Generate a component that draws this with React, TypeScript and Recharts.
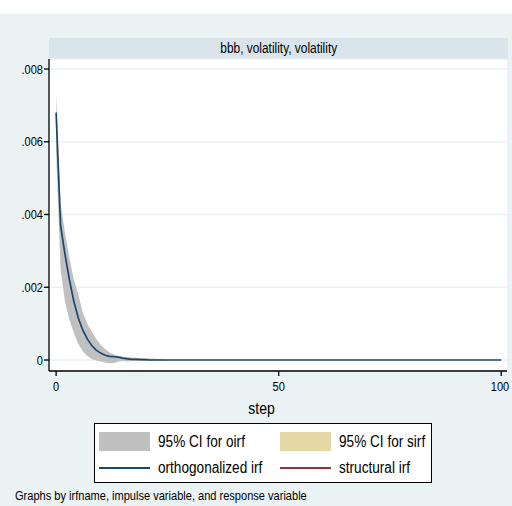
import { ComposedChart, Area, Line, XAxis, YAxis, CartesianGrid } from 'recharts'

// orthogonalized irf, lower and upper 95% CI, one value per step (0..100)
const oirf = [
  0.0068, 0.0037, 0.0029, 0.0022, 0.0016, 0.00115, 0.00082, 0.00058, 0.0004, 0.00027,
  0.00019, 0.00013, 0.0001, 0.00009, 0.00008, 0.00005, 0.00003, 0.00002, 0.00002, 0.00001,
  0.00001, 0, 0, 0, 0, 0, 0, 0, 0, 0,
  0, 0, 0, 0, 0, 0, 0, 0, 0, 0,
  0, 0, 0, 0, 0, 0, 0, 0, 0, 0,
  0, 0, 0, 0, 0, 0, 0, 0, 0, 0,
  0, 0, 0, 0, 0, 0, 0, 0, 0, 0,
  0, 0, 0, 0, 0, 0, 0, 0, 0, 0,
  0, 0, 0, 0, 0, 0, 0, 0, 0, 0,
  0, 0, 0, 0, 0, 0, 0, 0, 0, 0,
  0,
]
const ciLower = [
  0.0057, 0.0025, 0.0016, 0.0011, 0.00074, 0.00044, 0.00024, 0.00011, 0.00003, -0.00001,
  -0.00004, -0.00007, -0.00009, -0.00008, -0.00004, -0.00003, -0.00004, -0.00003, -0.00003, -0.00003,
  -0.00003, -0.00003, -0.00003, -0.00002, -0.00002, 0, 0, 0, 0, 0,
  0, 0, 0, 0, 0, 0, 0, 0, 0, 0,
  0, 0, 0, 0, 0, 0, 0, 0, 0, 0,
  0, 0, 0, 0, 0, 0, 0, 0, 0, 0,
  0, 0, 0, 0, 0, 0, 0, 0, 0, 0,
  0, 0, 0, 0, 0, 0, 0, 0, 0, 0,
  0, 0, 0, 0, 0, 0, 0, 0, 0, 0,
  0, 0, 0, 0, 0, 0, 0, 0, 0, 0,
  0,
]
const ciUpper = [
  0.0073, 0.0043, 0.0035, 0.0028, 0.0022, 0.0018, 0.0013, 0.001, 0.00078, 0.00058,
  0.00042, 0.0003, 0.00021, 0.00015, 0.00011, 0.00009, 0.00008, 0.00007, 0.00006, 0.00005,
  0.00005, 0.00004, 0.00004, 0.00003, 0.00003, 0, 0, 0, 0, 0,
  0, 0, 0, 0, 0, 0, 0, 0, 0, 0,
  0, 0, 0, 0, 0, 0, 0, 0, 0, 0,
  0, 0, 0, 0, 0, 0, 0, 0, 0, 0,
  0, 0, 0, 0, 0, 0, 0, 0, 0, 0,
  0, 0, 0, 0, 0, 0, 0, 0, 0, 0,
  0, 0, 0, 0, 0, 0, 0, 0, 0, 0,
  0, 0, 0, 0, 0, 0, 0, 0, 0, 0,
  0,
]

const xTicks = [0, 50, 100]
const yTicks = [0, 0.002, 0.004, 0.006, 0.008]

const panelTitle = 'bbb, volatility, volatility'
const xTitle = 'step'
const note = 'Graphs by irfname, impulse variable, and response variable'
const legendItems = [
  { label: '95% CI for oirf', kind: 'area', color: '#c0c0c0' },
  { label: '95% CI for sirf', kind: 'area', color: '#e4d9a6' },
  { label: 'orthogonalized irf', kind: 'line', color: '#1a476f' },
  { label: 'structural irf', kind: 'line', color: '#90353b' },
]

// Stata uses a narrow sans; squeeze Liberation Sans horizontally to get close
const FONT = '"Liberation Sans", Arial, sans-serif'
const SX = 0.85
const BG = '#eaf2f3'

const chartData = oirf.map((v, i) => ({
  step: i,
  irf: v,
  ci: [ciLower[i], ciUpper[i]],
}))

const fmtY = (v: number) => (v === 0 ? '0' : v.toFixed(3).replace(/^0/, ''))

function Narrow({ children, origin = 'left center' }: { children: any; origin?: string }) {
  return (
    <span style={{ display: 'inline-block', transform: `scaleX(${SX})`, transformOrigin: origin, whiteSpace: 'nowrap' }}>
      {children}
    </span>
  )
}

function XTick({ x, y, payload }: any) {
  return (
    <text transform={`translate(${x},${y}) scale(${SX},1)`} textAnchor="middle" dy="0.71em"
      fill="#000" fontSize={13} fontFamily={FONT}>
      {payload.value}
    </text>
  )
}

function YTick({ x, y, payload }: any) {
  return (
    <text transform={`translate(${x},${y}) scale(${SX},1)`} textAnchor="end" dy="0.355em"
      fill="#000" fontSize={13} fontFamily={FONT}>
      {fmtY(payload.value)}
    </text>
  )
}

function LegendBox() {
  return (
    <div style={{
      position: 'absolute', left: 94, top: 423, width: 336, height: 58,
      background: '#fff', border: '1px solid #000', fontFamily: FONT, fontSize: 16, color: '#000',
    }}>
      {legendItems.map((it, i) => {
        const col = i % 2
        const row = Math.floor(i / 2)
        const left = col === 0 ? 4 : 185
        const top = row === 0 ? 8 : 33
        return (
          <div key={it.label} style={{ position: 'absolute', left, top, height: 19, width: 160 }}>
            {it.kind === 'area'
              ? <div style={{ position: 'absolute', left: 0, top: 0, width: 51, height: 19, background: it.color }} />
              : <div style={{ position: 'absolute', left: 0, top: 10, width: 51, height: 2, background: it.color }} />}
            <div style={{ position: 'absolute', left: 59, top: row === 0 ? 0 : 1, lineHeight: '19px' }}>
              <Narrow>{it.label}</Narrow>
            </div>
          </div>
        )
      })}
    </div>
  )
}

export default function App() {
  return (
    <div style={{ position: 'absolute', left: 0, top: 0, width: 512, height: 506, background: BG, overflow: 'hidden' }}>
      <div style={{ position: 'absolute', left: 0, top: 0, width: 512, height: 14, background: '#fff' }} />
      <div style={{
        position: 'absolute', left: 49, top: 38, width: 459, height: 21, background: '#d9e5eb',
        fontFamily: FONT, fontSize: 14, lineHeight: '21px', textAlign: 'center', color: '#000',
      }}>
        <Narrow origin="center">{panelTitle}</Narrow>
      </div>
      <div style={{ position: 'absolute', left: 0, top: 0 }}>
        <ComposedChart width={512} height={506} data={chartData} margin={{ top: 59, right: 5, bottom: 105, left: 0 }}>
          <CartesianGrid vertical={false} stroke={BG} strokeWidth={1.5} fill="#fff" />
          <XAxis
            dataKey="step"
            type="number"
            domain={[-1.6, 101.3]}
            ticks={xTicks}
            allowDataOverflow
            height={30}
            tickSize={5}
            tickMargin={6}
            axisLine={{ stroke: '#000', strokeWidth: 1.3 }}
            tickLine={{ stroke: '#000', strokeWidth: 1.3 }}
            tick={<XTick />}
          />
          <YAxis
            type="number"
            domain={[-0.000302, 0.008275]}
            ticks={yTicks}
            allowDataOverflow
            width={49}
            tickSize={5}
            tickMargin={1}
            axisLine={{ stroke: '#000', strokeWidth: 1.3 }}
            tickLine={{ stroke: '#000', strokeWidth: 1.3 }}
            tick={<YTick />}
          />
          <Area type="linear" dataKey="ci" stroke="none" fill="#c0c0c0" fillOpacity={1} isAnimationActive={false} />
          <Line type="linear" dataKey="irf" stroke="#1a476f" strokeWidth={1.7} dot={false} isAnimationActive={false} />
        </ComposedChart>
      </div>
      <div style={{ position: 'absolute', left: 222, top: 397, width: 80, textAlign: 'center', fontFamily: FONT, fontSize: 16.5, lineHeight: '22px', color: '#000' }}>
        <Narrow origin="center">{xTitle}</Narrow>
      </div>
      <LegendBox />
      <div style={{ position: 'absolute', left: 15, top: 488, fontFamily: FONT, fontSize: 13, lineHeight: '16px', color: '#000' }}>
        <Narrow>{note}</Narrow>
      </div>
    </div>
  )
}
